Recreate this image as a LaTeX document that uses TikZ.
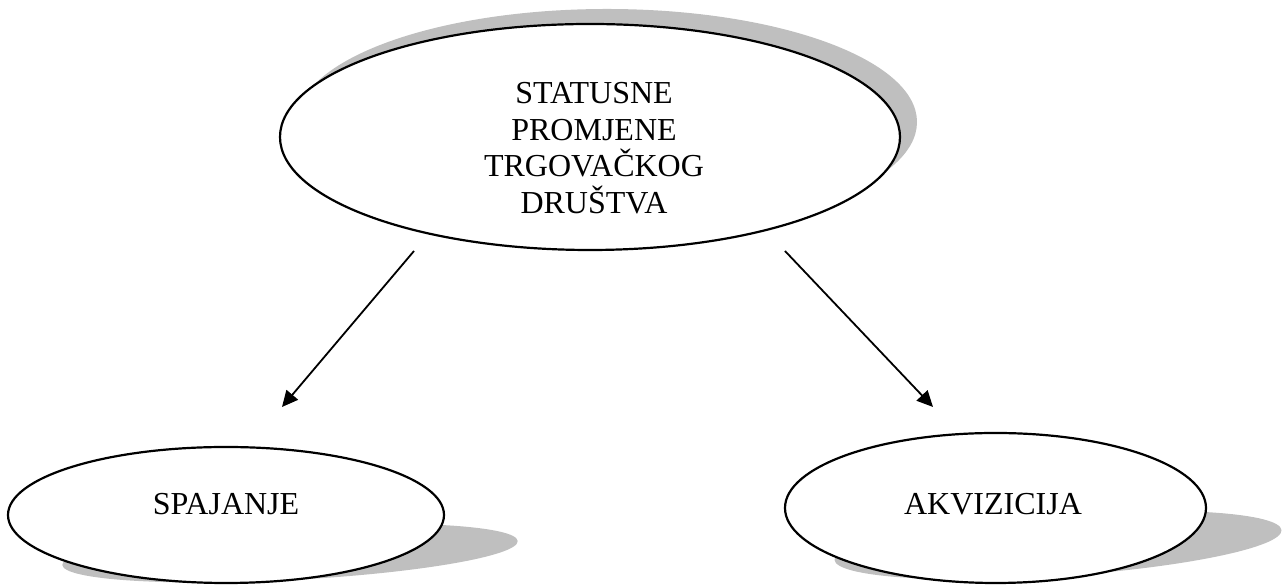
\documentclass[tikz,border=0pt]{standalone}
\usepackage{fontspec}
\setmainfont{Liberation Serif}
\usetikzlibrary{arrows.meta,shapes.geometric}
\definecolor{shadowgray}{RGB}{191,191,191}
\begin{document}
\begin{tikzpicture}[x=1pt,y=1pt,
  oval/.style={ellipse, draw=black, line width=2.2pt, fill=white, inner sep=0pt},
  shadowfill/.style={fill=shadowgray, draw=none},
  arr/.style={line width=1.8pt, -{Triangle[length=16pt,width=15pt]}},
  lbl/.style={font=\fontsize{32}{36.7}\selectfont, inner sep=0pt, align=center}]
\useasboundingbox (0,0) rectangle (1283,585);
% top
\fill[shadowfill] (607,463) ellipse [x radius=310, y radius=113];
\node[oval, minimum width=620, minimum height=226] (top) at (590,448) {};
\node[lbl, anchor=north] (toptext) at (594,503) {STATUSNE\\PROMJENE\\TRGOVAČKOG\\DRUŠTVA};
% left
\fill[shadowfill, rotate around={3:(290,32)}] (290,32) ellipse [x radius=228, y radius=27];
\node[oval, minimum width=436, minimum height=136] (spa) at (226,70) {};
\node[lbl, anchor=base] (spatext) at (226,70) {SPAJANJE};
% right
\fill[shadowfill, rotate around={3.8:(1058,40)}] (1058,40) ellipse [x radius=224, y radius=31];
\node[oval, minimum width=421, minimum height=150] (akv) at (995.5,77) {};
\node[lbl, anchor=base] (akvtext) at (993,70) {AKVIZICIJA};
% arrows
\coordinate (a1s) at (414,334);
\coordinate (a1e) at (282,178);
\coordinate (a2s) at (785,334);
\coordinate (a2e) at (933,178);
\draw[arr] (a1s) -- (a1e);
\draw[arr] (a2s) -- (a2e);
\end{tikzpicture}
\end{document}
